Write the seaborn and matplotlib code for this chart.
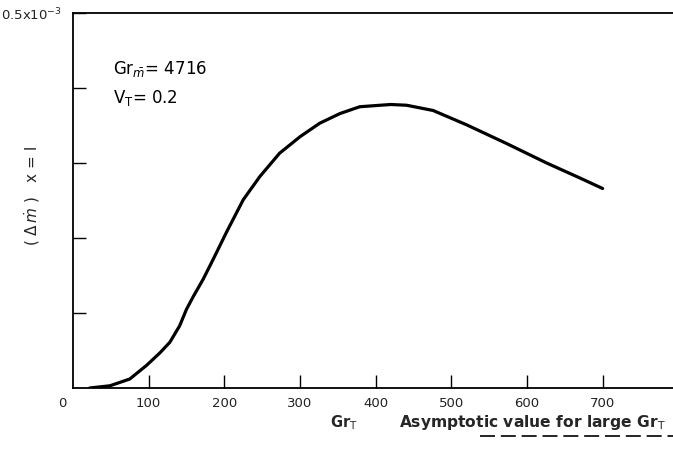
import matplotlib
matplotlib.use("Agg")
import matplotlib.pyplot as plt
import seaborn as sns
import pandas as pd

# Thermal Grashof number and the mass-flux difference at x = l (units of 1e-3)
gr_t = [22, 49, 75, 97, 115, 128, 141, 150, 159, 172, 185, 203, 225, 247,
        273, 300, 326, 353, 379, 406, 420, 441, 476, 520, 573, 626, 670, 700]
dm_xl = [0.000, 0.003, 0.012, 0.030, 0.047, 0.061, 0.083, 0.105, 0.122,
         0.145, 0.171, 0.208, 0.251, 0.282, 0.313, 0.335, 0.353, 0.366,
         0.375, 0.377, 0.378, 0.377, 0.370, 0.351, 0.326, 0.300, 0.280,
         0.266]

x_ticks = [100, 200, 300, 400, 500, 600, 700]
y_ticks = [0.1, 0.2, 0.3, 0.4, 0.5]
y_tick_labels = ["", "", "", "", r"0.5x10$^{-3}$"]

df = pd.DataFrame({"Gr_T": gr_t, "dm": dm_xl})

sns.set_style("ticks")
plt.rcParams["font.family"] = ["DejaVu Sans"]
plt.rcParams["mathtext.fontset"] = "dejavusans"

fig = plt.figure(figsize=(6.73, 4.52), dpi=100)
ax = fig.add_axes([73 / 673, 1 - 389 / 452, 1 - 73 / 673, 375 / 452])

sns.lineplot(data=df, x="Gr_T", y="dm", ax=ax, color="black", linewidth=2.3,
             solid_joinstyle="round", solid_capstyle="round")

ax.set_xlim(0, 793)
ax.set_ylim(0, 0.5)
ax.set_xticks(x_ticks)
ax.set_xticklabels([str(v) for v in x_ticks])
ax.set_yticks(y_ticks)
ax.set_yticklabels(y_tick_labels)
ax.tick_params(direction="in", length=9.5, width=1.0, color="black",
               labelsize=9.5, labelcolor="#222222")
ax.tick_params(axis="x", pad=6)
ax.tick_params(axis="y", pad=8)

for side in ("left", "bottom", "top"):
    ax.spines[side].set_linewidth(1.3)
    ax.spines[side].set_color("black")
ax.spines["right"].set_visible(False)

ax.set_xlabel("")
ax.set_ylabel(r"( $\Delta\,\dot{m}$ )   x = l", fontsize=11, labelpad=0)
ax.yaxis.set_label_coords(-0.052, 0.515)

# origin label
ax.text(-14, -0.019, "0", ha="center", va="center", fontsize=9.5,
        color="#222222", clip_on=False)

# parameters of the run
ax.text(53, 0.426, r"Gr$_{\bar{m}}$= 4716", fontsize=12, va="center",
        color="black")
ax.text(53, 0.388, r"V$_\mathrm{T}$= 0.2", fontsize=12, va="center",
        color="black")

# axis title and asymptote note
ax.text(358, -0.045, r"Gr$_\mathrm{T}$", fontsize=10.5, fontweight="bold",
        ha="center", va="center", clip_on=False)
ax.text(431, -0.045, r"Asymptotic value for large Gr$_\mathrm{T}$",
        fontsize=11.2, fontweight="bold", ha="left", va="center",
        clip_on=False)
ax.plot([(480 - 73) / 600, 1.0], [-(437 - 389) / 375] * 2,
        transform=ax.transAxes, color="black", linewidth=1.2,
        linestyle=(0, (9, 3.5)), clip_on=False)

fig.savefig("out.png", dpi=100)
